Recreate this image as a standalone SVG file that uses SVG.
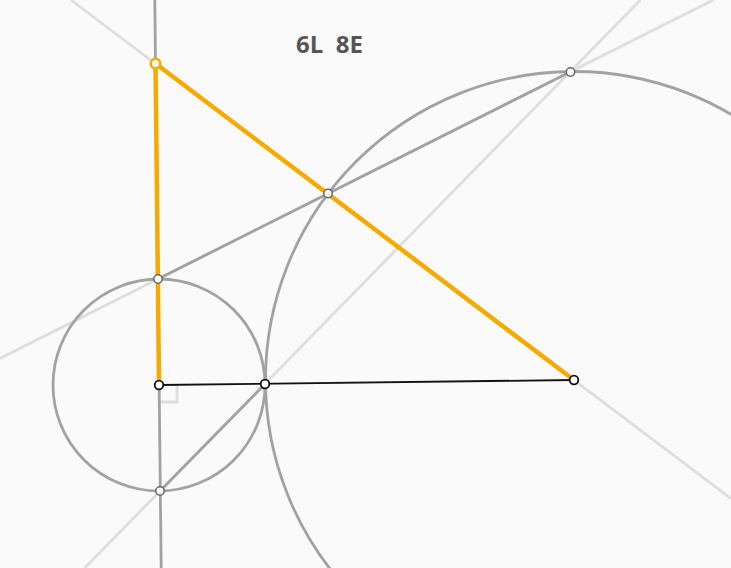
<svg xmlns="http://www.w3.org/2000/svg" width="731" height="568" viewBox="0 0 731 568">
<style>
.light{stroke:#dedede;stroke-width:2.8;fill:none}
.mid{stroke:#a2a2a2;stroke-width:2.8;fill:none}
.orange{stroke:#f5aa00;stroke-width:4.5;fill:none;stroke-linecap:round}
.seg{stroke:#111;stroke-width:1.8;fill:none}
.pt{fill:#fff;stroke:#111;stroke-width:1.8}
.gpt{fill:#fff;stroke:#666;stroke-width:1.5}
.lbl{font-family:"Open Sans","Liberation Sans",sans-serif;font-weight:bold;font-size:24px;fill:#555;white-space:pre}
</style>
<rect width="731" height="568" fill="#fafafa"/>
<g id="connectors">
  <line class="light" x1="71" y1="0" x2="731" y2="498.6"/>
  <line class="light" x1="0" y1="358.4" x2="713.3" y2="0"/>
  <line class="light" x1="84.7" y1="568" x2="640.4" y2="0"/>
  <path class="light" d="M159 402 H177 V385" stroke-width="2.2"/>
  <line class="mid" x1="154.8" y1="0" x2="161.2" y2="568"/>
  <circle class="mid" cx="159" cy="385" r="106"/>
  <circle class="mid" cx="574" cy="380" r="308.5"/>
  <line class="mid" x1="158" y1="279" x2="570" y2="72"/>
  <line class="mid" x1="160" y1="491" x2="265" y2="384"/>
  <line class="seg" x1="159" y1="385" x2="574" y2="380"/>
  <line class="orange" x1="155.5" y1="63.5" x2="159" y2="385"/>
  <line class="orange" x1="155.5" y1="63.5" x2="574" y2="380"/>
</g>
<g id="P1"><circle class="gpt" cx="158" cy="279" r="4.2"/></g>
<g id="P2"><circle class="gpt" cx="160" cy="491" r="4.2"/></g>
<g id="Q"><circle class="gpt" cx="328" cy="193.5" r="4.2"/></g>
<g id="R"><circle class="gpt" cx="570.5" cy="72" r="4.2"/></g>
<g id="B"><circle class="pt" cx="159" cy="385" r="4.3"/></g>
<g id="M"><circle class="pt" cx="265" cy="384" r="4.3"/></g>
<g id="C"><circle class="pt" cx="574" cy="380" r="4.3"/></g>
<g id="A"><circle cx="155.5" cy="63.5" r="4.8" fill="#fff" stroke="#f5aa00" stroke-width="2.5"/></g>
<g id="label"><text class="lbl" x="329.5" y="53" text-anchor="middle" xml:space="preserve">6L  8E</text></g>
</svg>
